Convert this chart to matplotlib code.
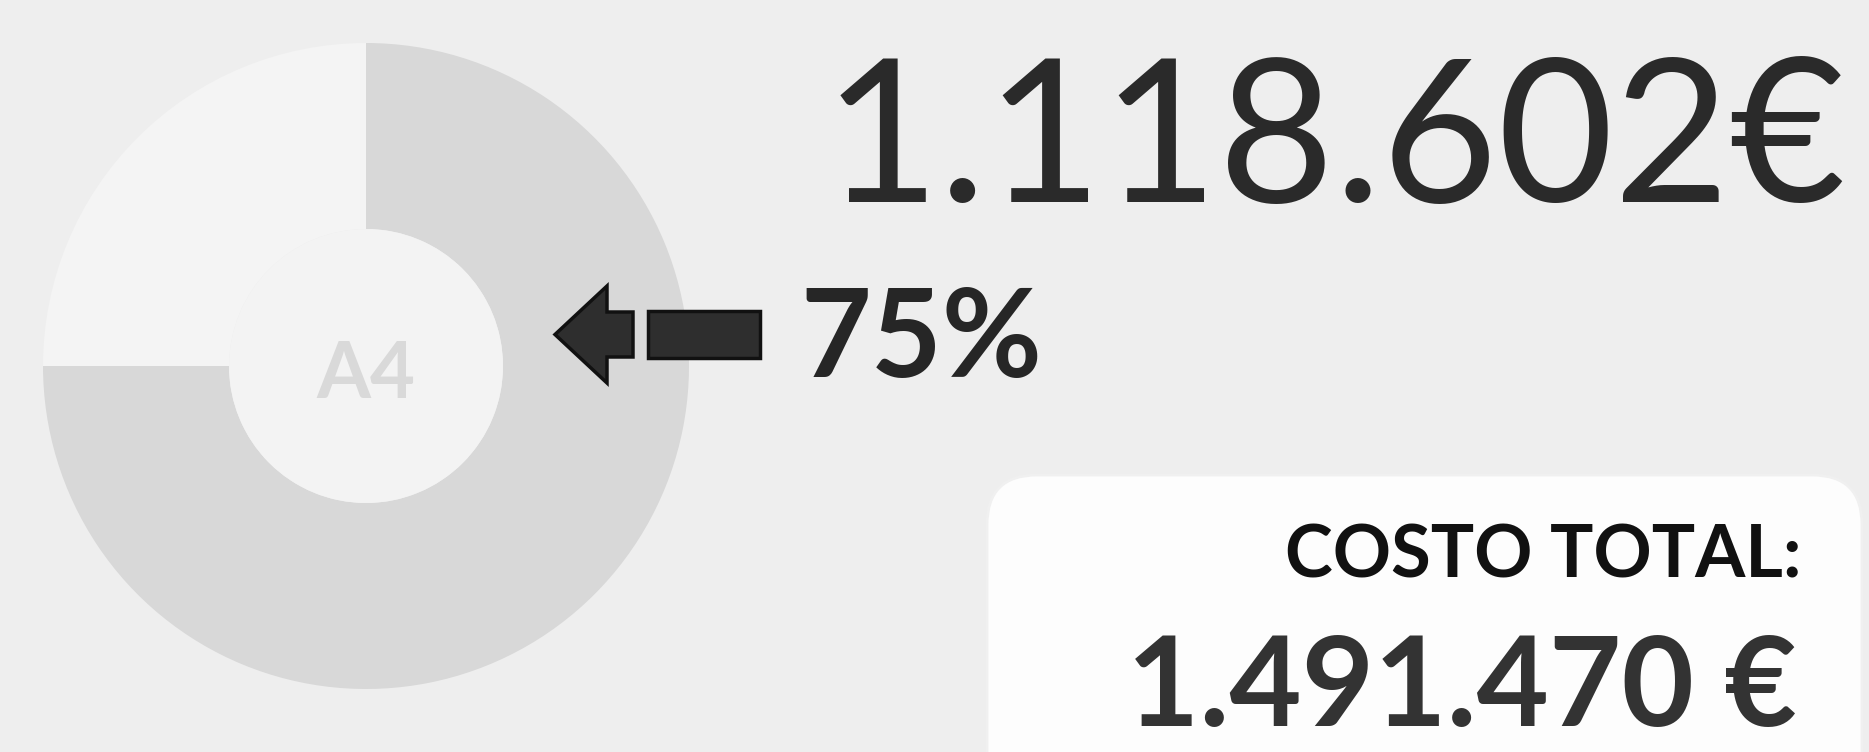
import matplotlib.pyplot as plt
from matplotlib.patches import FancyBboxPatch, FancyArrow, Rectangle

# data
donut_values = [75, 25]
donut_colors = ['#d8d8d8', '#f4f4f4']
center_label = 'A4'
amount_label = '1.118.602€'
total_title = 'COSTO TOTAL:'
total_label = '1.491.470 €'

W, H = 1869, 752
fig = plt.figure(figsize=(W / 100, H / 100), dpi=100, facecolor='#eeeeee')

# donut
cx, cy, r_out, r_in = 366, 366, 323, 137
axp = fig.add_axes([(cx - r_out) / W, (H - cy - r_out) / H, 2 * r_out / W, 2 * r_out / H])
axp.pie(donut_values, colors=donut_colors, startangle=90, counterclock=False,
        radius=1, wedgeprops=dict(width=1 - r_in / r_out, linewidth=0))
axp.add_patch(plt.Circle((0, 0), r_in / r_out, color='#f3f3f3', lw=0))
axp.set_xlim(-1, 1)
axp.set_ylim(-1, 1)
axp.axis('off')
axp.text(0, -0.03, center_label, ha='center', va='center', fontsize=56,
         fontweight='bold', color='#d9d9d9', family='Lato')

# pixel-space axes for the annotations, drawn on top of the donut
ax = fig.add_axes([0, 0, 1, 1], zorder=3)
ax.patch.set_visible(False)
ax.set_xlim(0, W)
ax.set_ylim(H, 0)
ax.axis('off')

# arrow pointing at the donut
ax.add_patch(FancyArrow(633, 334.5, -78, 0, width=45, head_width=97, head_length=52,
                        length_includes_head=True, fc='#2e2e2e', ec='#111111', lw=2.5))
ax.add_patch(Rectangle((648, 311), 112, 47, fc='#2e2e2e', ec='#111111', lw=2.5))
ax.text(800, 377, f'{donut_values[0]}%', ha='left', va='baseline', fontsize=88,
        fontweight='bold', color='#262626', family='Lato')

# big amount
ax.text(1846, 202, amount_label, ha='right', va='baseline', fontsize=144,
        color='#2a2a2a', family='Lato')

# white box with total cost
box = FancyBboxPatch((987, 475), 875, 400, boxstyle='round,pad=0,rounding_size=50',
                     fc='#fdfdfd', ec='#f0f0f0', lw=2)
ax.add_patch(box)
ax.text(1802, 577, total_title, ha='right', va='baseline', fontsize=52,
        fontweight='bold', color='#111111', family='Lato')
ax.text(1797, 726, total_label, ha='right', va='baseline', fontsize=90,
        fontweight='bold', color='#333333', family='Lato')

fig.savefig('out.png', dpi=100, facecolor=fig.get_facecolor())
